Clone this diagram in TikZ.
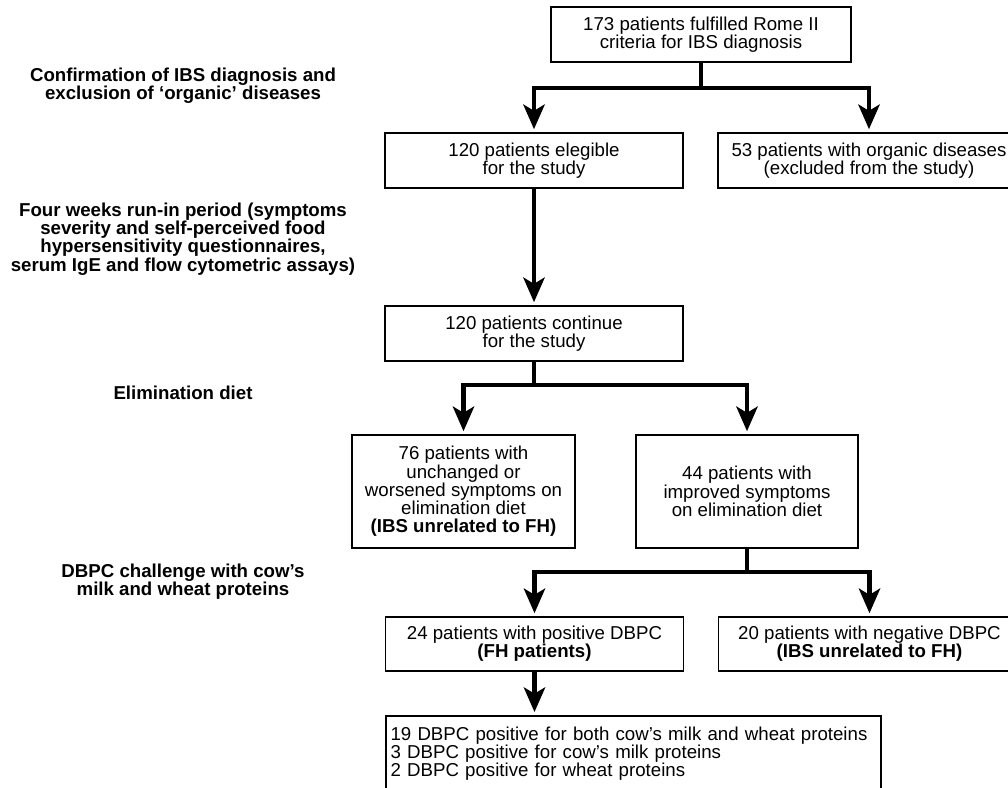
\documentclass[tikz,border=0pt]{standalone}
\usepackage{fontspec}
\setmainfont{Liberation Sans}
\usepackage{tikz}
\usetikzlibrary{calc}
\usetikzlibrary{arrows.meta}
\usetikzlibrary{positioning}
\tikzset{>={Stealth[length=18.75pt, width=16.5pt, inset=5pt, line width=0pt]}}
\tikzstyle{box} = [draw=black, line width=1.3pt, align=center, inner sep=2pt, font=\fontsize{14}{13.7}\selectfont]
\tikzstyle{lab} = [draw=none, align=center, inner sep=1pt, font=\fontsize{14}{13.7}\selectfont\bfseries]
\tikzstyle{flow} = [line width=3.5pt, draw=black]
\tikzstyle{go} = [flow, ->, shorten >=2.25pt]

\begin{document}
\begin{tikzpicture}[x=0.75pt, y=-0.75pt]
\fill [white] (0, 0) rectangle (1008, 788);
\useasboundingbox (0, 0) rectangle (1008, 788);
% step labels
\node [lab] (c1) at (183, 86) {Confirmation of IBS diagnosis and\\exclusion of ‘organic’ diseases};
\node [lab] (c2) at (183, 239) {Four weeks run-in period (symptoms\\severity and self-perceived food\\hypersensitivity questionnaires,\\serum IgE and flow cytometric assays)};
\node [lab] (c3) at (183, 393) {Elimination diet};
\node [lab] (c4) at (183, 582) {DBPC challenge with cow’s\\milk and wheat proteins};
% boxes
\node [box, minimum width=225pt, minimum height=41.25pt] (T) at (701, 34.5) {173 patients fulfilled Rome II\\criteria for IBS diagnosis};
\node [box, minimum width=223.5pt, minimum height=41.25pt] (E) at (534, 160.5) {120 patients elegible\\for the study};
\node [box, minimum width=226.5pt, minimum height=41.25pt] (O) at (869, 160.5) {53 patients with organic diseases\\(excluded from the study)};
\node [box, minimum width=223.5pt, minimum height=41.25pt] (C) at (534, 333.5) {120 patients continue\\for the study};
\node [box, minimum width=167pt, minimum height=84.75pt] (W) at (463.5, 491.5) {76 patients with\\unchanged or\\worsened symptoms on\\elimination diet\\\textbf{(IBS unrelated to FH)}};
\node [box, minimum width=167pt, minimum height=84.75pt] (I) at (747, 491.5) {44 patients with\\improved symptoms\\on elimination diet};
\node [box, minimum width=223.5pt, minimum height=40.5pt] (P) at (534.5, 644) {24 patients with positive DBPC\\\textbf{(FH patients)}};
\node [box, minimum width=226.5pt, minimum height=40.5pt] (N) at (869.5, 644) {20 patients with negative DBPC\\\textbf{(IBS unrelated to FH)}};
\node [box, anchor=north west, align=left, inner xsep=3.5pt, text width=364.25pt, minimum height=57pt] (F) at (385, 715) {19 DBPC positive for both cow’s milk and wheat proteins\\3 DBPC positive for cow’s milk proteins\\2 DBPC positive for wheat proteins};
% connectors
\coordinate (j1) at (701, 88);
\coordinate (j2) at (534, 385);
\coordinate (j3) at (747, 572);
\draw [flow] (T.south) to (j1);
\draw [go] (j1) -| (E.north);
\draw [go] (j1) -| (O.north);
\draw [go] (E.south) to (C.north);
\draw [flow] (C.south) to (j2);
\draw [go] (j2) -| (W.north);
\draw [go] (j2) -| (I.north);
\draw [flow] (I.south) to (j3);
\draw [go] (j3) -| (P.north);
\draw [go] (j3) -| (N.north);
\draw [go] (P.south) to (P.south |- F.north);
\end{tikzpicture}
\end{document}
